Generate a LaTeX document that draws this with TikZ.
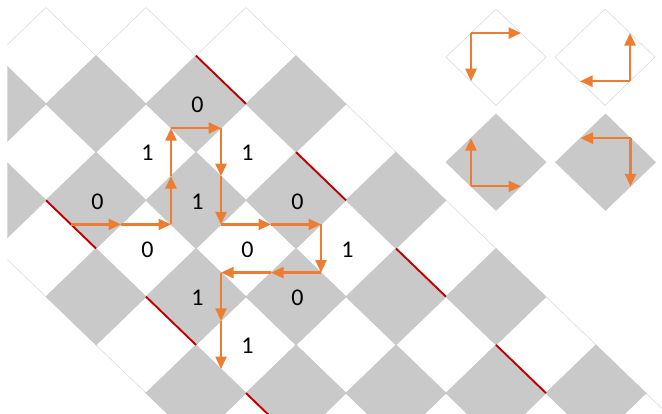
\documentclass[tikz,border=0pt]{standalone}
\usepackage{fontspec}
\setmainfont{Carlito}
\usetikzlibrary{arrows.meta}
\definecolor{cellgrey}{HTML}{C9C9C9}
\definecolor{edgegrey}{HTML}{DCDCDC}
\definecolor{pathorange}{HTML}{ED7D31}
\definecolor{seamred}{HTML}{C00000}
\tikzset{
  whitecell/.style={fill=white, draw=edgegrey, line width=0.6pt},
  greycell/.style={fill=cellgrey, draw=cellgrey, line width=0.6pt},
  seam/.style={draw=seamred, line width=1.9pt},
  flow/.style={draw=pathorange, line width=2.3pt, -{Triangle[length=12.5pt,width=11pt]}},
  bit/.style={font=\fontsize{24}{24}\selectfont, inner sep=0pt, xshift=1.5pt, yshift=-1pt},
}
\newcommand{\cellpath}[2]{(#1-1,#2) -- (#1,#2-1) -- (#1+1,#2) -- (#1,#2+1) -- cycle}
\begin{document}
\begin{tikzpicture}
\useasboundingbox (0,0) rectangle (662pt,-413pt);
% lattice: one unit = half a tile diagonal
\begin{scope}[shift={(46pt,-7.5pt)}, x={(50pt,0pt)}, y={(0pt,-48.2pt)}]
  \begin{scope}
    \clip (-0.77,-0.2) rectangle (12.6,8.42);
    % white tiles of the band
    \foreach \i in {-1,...,12}{
      \foreach \j in {1,...,9}{
        \pgfmathtruncatemacro{\s}{\i+\j}
        \pgfmathtruncatemacro{\d}{\i-\j}
        \pgfmathtruncatemacro{\odd}{mod(abs(\i),2)}
        \ifodd\s
          \ifnum\d>-6 \ifnum\d<4 \ifnum\odd=0
            \path[whitecell] \cellpath{\i}{\j};
          \fi\fi\fi
        \fi
      }
    }
    % grey tiles of the band
    \foreach \i in {-1,...,12}{
      \foreach \j in {1,...,9}{
        \pgfmathtruncatemacro{\s}{\i+\j}
        \pgfmathtruncatemacro{\d}{\i-\j}
        \pgfmathtruncatemacro{\odd}{mod(abs(\i),2)}
        \ifodd\s
          \ifnum\d>-6 \ifnum\d<4 \ifnum\odd=1
            \path[greycell] \cellpath{\i}{\j};
          \fi\fi\fi
        \fi
      }
    }
    % red seams
    \foreach \x/\y in {3/1,5/3,7/5,9/7,0/4,2/6,4/8}{
      \draw[seam] (\x,\y) -- (\x+1,\y+1);
    }
  \end{scope}

  % bits
  \node[bit] (b1) at (3,2) {0};
  \node[bit] (b2) at (2,3) {1};
  \node[bit] (b3) at (4,3) {1};
  \node[bit] (b4) at (1,4) {0};
  \node[bit] (b5) at (3,4) {1};
  \node[bit] (b6) at (5,4) {0};
  \node[bit] (b7) at (2,5) {0};
  \node[bit] (b8) at (4,5) {0};
  \node[bit] (b9) at (6,5) {1};
  \node[bit] (b10) at (3,6) {1};
  \node[bit] (b11) at (5,6) {0};
  \node[bit] (b12) at (4,7) {1};

  % walk through the band
  \coordinate (p0) at (0.5,4.5);
  \coordinate (p1) at (1.5,4.5);
  \coordinate (p2) at (2.5,4.5);
  \coordinate (p3) at (2.5,3.5);
  \coordinate (p4) at (2.5,2.5);
  \coordinate (p5) at (3.5,2.5);
  \coordinate (p6) at (3.5,3.5);
  \coordinate (p7) at (3.5,4.5);
  \coordinate (p8) at (4.5,4.5);
  \coordinate (p9) at (5.5,4.5);
  \coordinate (p10) at (5.5,5.5);
  \coordinate (p11) at (4.5,5.5);
  \coordinate (p12) at (3.5,5.5);
  \coordinate (p13) at (3.5,6.5);
  \coordinate (p14) at (3.5,7.5);
  \foreach \a/\b in {p0/p1,p1/p2,p2/p3,p3/p4,p4/p5,p5/p6,p6/p7,p7/p8,
                     p8/p9,p9/p10,p10/p11,p11/p12,p12/p13,p13/p14}{
    \draw[flow] (\a) -- (\b);
  }

  % legend tiles
  \path[whitecell] \cellpath{9}{1.03};
  \path[whitecell] \cellpath{11.18}{1.03};
  \path[greycell] \cellpath{9}{3.21};
  \path[greycell] \cellpath{11.19}{3.21};

  \coordinate (ac) at (8.5,0.53);
  \coordinate (ar) at (9.5,0.53);
  \coordinate (ad) at (8.5,1.53);
  \draw[flow] (ac) -- (ar);
  \draw[flow] (ac) -- (ad);

  \coordinate (bc) at (11.68,1.53);
  \coordinate (bu) at (11.68,0.53);
  \coordinate (bl) at (10.68,1.53);
  \draw[flow] (bc) -- (bu);
  \draw[flow] (bc) -- (bl);

  \coordinate (cc) at (8.5,3.71);
  \coordinate (cu) at (8.5,2.71);
  \coordinate (cr) at (9.5,3.71);
  \draw[flow] (cc) -- (cu);
  \draw[flow] (cc) -- (cr);

  \coordinate (dc) at (11.69,2.71);
  \coordinate (dl) at (10.69,2.71);
  \coordinate (dd) at (11.69,3.71);
  \draw[flow] (dc) -- (dl);
  \draw[flow] (dc) -- (dd);
\end{scope}
\end{tikzpicture}
\end{document}
